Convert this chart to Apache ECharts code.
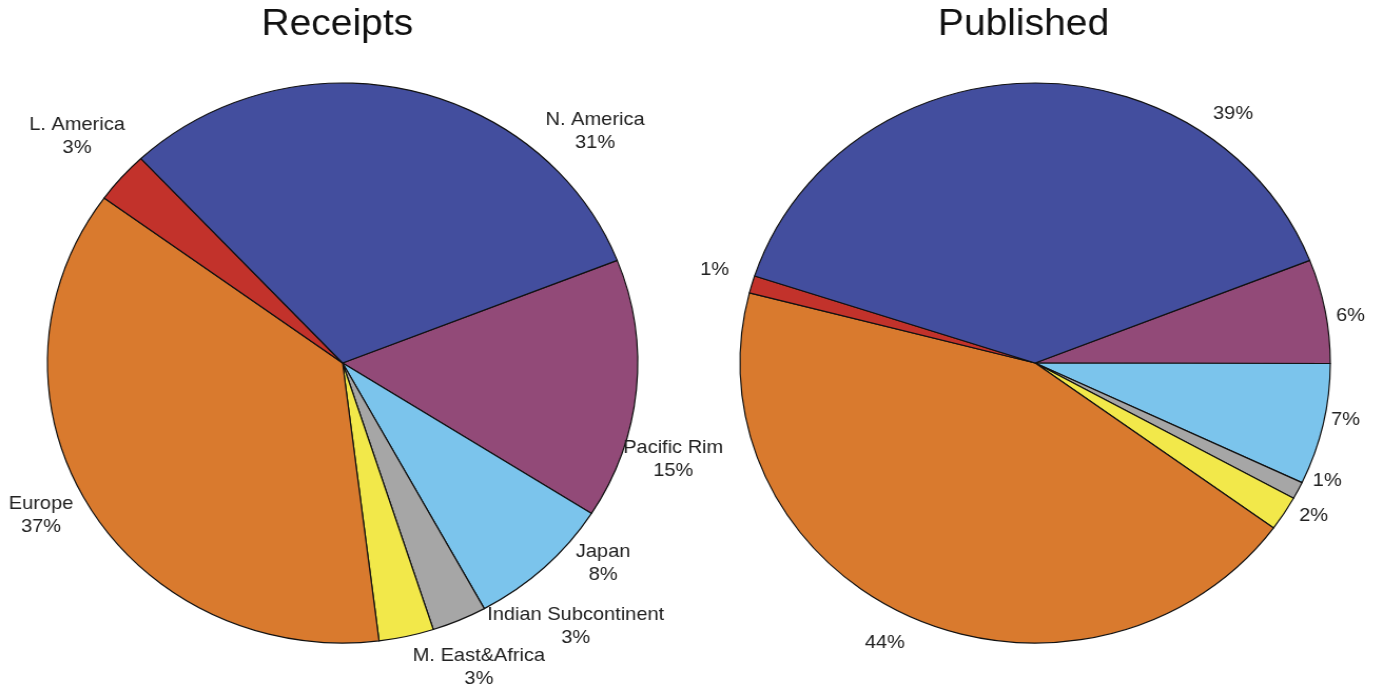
<!DOCTYPE html>
<html>
<head>
<meta charset="utf-8">
<title>Receipts and Published by Region</title>
<script src="https://cdn.jsdelivr.net/npm/echarts@6/dist/echarts.min.js"></script>
<style>
  html, body { margin: 0; padding: 0; overflow: hidden; background: #ffffff; }
  /* the pies are drawn slightly wider than tall */
  #chart { width: 1312px; height: 693px; transform: scaleX(1.0541); transform-origin: 0 0; }
</style>
</head>
<body>
<div id="chart"></div>
<script>
// Share of papers by region (percent)
const regions = ['Pacific Rim', 'Japan', 'Indian Subcontinent', 'M. East&Africa', 'Europe', 'L. America', 'N. America'];
const receipts = [15, 8, 3, 3, 37, 3, 31];
const published = [6, 7, 1, 2, 44, 1, 39];
const regionColors = ['#924a78', '#7bc4ec', '#a6a6a6', '#f2e84a', '#d97a2e', '#c2322b', '#434e9e'];

// Label anchors: polar angle (degrees, counter-clockwise from 3 o'clock) and distance from the pie centre
const receiptLabelAngle = [-17, -39, -50, -67, 208, 138, 44];
const receiptLabelDist = [328, 318, 344, 331, 324, 339, 333];
const publishedLabelAngle = [9, -11, -23, -30, 243, 163, 53];
const publishedLabelDist = [303, 300, 301, 305, 314, 318, 312];

const FONT = '"Liberation Sans", Arial, Helvetica, sans-serif';
const PIE_R = 280;
const leftCenter = [325, 363];
const rightCenter = [982, 363];

function placeLabels(center, angles, dists) {
  return function (p) {
    const a = angles[p.dataIndex] * Math.PI / 180;
    const d = dists[p.dataIndex];
    return {
      x: center[0] + d * Math.cos(a),
      y: center[1] - d * Math.sin(a),
      align: 'center',
      verticalAlign: 'middle'
    };
  };
}

function pieSeries(values, center, showName, angles, dists) {
  return {
    type: 'pie',
    center: center,
    radius: PIE_R,
    startAngle: 21.5,
    clockwise: true,
    avoidLabelOverlap: false,
    animation: false,
    silent: true,
    data: regions.map((name, i) => ({ name: name, value: values[i] })),
    itemStyle: { borderColor: '#111111', borderWidth: 1.2 },
    label: {
      show: true,
      position: 'outside',
      formatter: p => (showName ? p.name + '\n' : '') + p.value + '%',
      fontFamily: FONT,
      fontSize: 19,
      lineHeight: 23,
      color: '#222222'
    },
    labelLine: { show: false },
    emphasis: { disabled: true },
    labelLayout: placeLabels(center, angles, dists)
  };
}

const chart = echarts.init(document.getElementById('chart'));
chart.setOption({
  backgroundColor: '#ffffff',
  color: regionColors,
  title: [
    { text: 'Receipts', left: 320, top: 6, textAlign: 'center', padding: 0,
      textStyle: { fontFamily: FONT, fontSize: 37, fontWeight: 'normal', color: '#111111' } },
    { text: 'Published', left: 971, top: 6, textAlign: 'center', padding: 0,
      textStyle: { fontFamily: FONT, fontSize: 37, fontWeight: 'normal', color: '#111111' } }
  ],
  series: [
    pieSeries(receipts, leftCenter, true, receiptLabelAngle, receiptLabelDist),
    pieSeries(published, rightCenter, false, publishedLabelAngle, publishedLabelDist)
  ]
});
</script>
</body>
</html>
